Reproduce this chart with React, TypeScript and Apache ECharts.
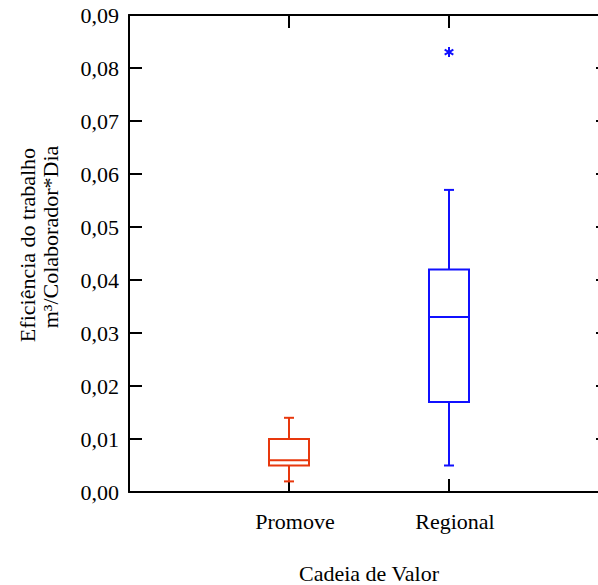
import React, { useEffect, useRef } from "react";
import * as echarts from "echarts";

const categories = ["Promove", "Regional"];
const whiskerLow = [0.002, 0.005];
const quartile1 = [0.005, 0.017];
const medians = [0.006, 0.033];
const quartile3 = [0.01, 0.042];
const whiskerHigh = [0.014, 0.057];
const outlierCategory = ["Regional"];
const outlierValue = [0.083];
const boxColors = ["#e8380d", "#1010ff"];
const yTicks = ["0,00", "0,01", "0,02", "0,03", "0,04", "0,05", "0,06", "0,07", "0,08", "0,09"];

const FONT = "'Liberation Serif', 'Times New Roman', serif";

const mkLine = () => ({ show: true, onZero: false, lineStyle: { color: "#000", width: 2 } });
const mkTick = () => ({ show: true, inside: true, length: 13, lineStyle: { color: "#000", width: 2 } });

export default function App() {
  const ref = useRef<HTMLDivElement>(null);
  useEffect(() => {
    if (!ref.current) return;
    const chart = echarts.init(ref.current, null, { renderer: "svg" });
    const boxData = categories.map((c, i) => [
      i + 1,
      whiskerLow[i],
      quartile1[i],
      medians[i],
      quartile3[i],
      whiskerHigh[i],
    ]);
    const outData = outlierCategory.map((c, i) => [categories.indexOf(c) + 1, outlierValue[i], categories.indexOf(c)]);
    chart.setOption({
      animation: false,
      backgroundColor: "#fff",
      grid: { left: 129, right: -11, top: 15, bottom: 93, containLabel: false, outerBoundsMode: "none" },
      xAxis: [
        {
          type: "value",
          position: "bottom",
          min: 0,
          max: 3,
          interval: 1,
          axisLine: mkLine(),
          axisTick: mkTick(),
          splitLine: { show: false },
          axisLabel: {
            formatter: (v: number) => categories[v - 1] || "",
            fontFamily: FONT,
            fontSize: 22,
            color: "#000",
            margin: 18,
            padding: [0, 0, 0, 12],
          },
          name: "Cadeia de Valor",
          nameLocation: "middle",
          nameGap: 70,
          nameTextStyle: { fontFamily: FONT, fontSize: 22, color: "#000" },
        },
        {
          type: "value",
          position: "top",
          min: 0,
          max: 3,
          interval: 1,
          axisLine: mkLine(),
          axisTick: mkTick(),
          splitLine: { show: false },
          axisLabel: { show: false },
        },
      ],
      yAxis: [
        {
          type: "value",
          position: "left",
          min: 0,
          max: 0.09,
          interval: 0.01,
          axisLine: mkLine(),
          axisTick: mkTick(),
          splitLine: { show: false },
          axisLabel: {
            formatter: (v: number) => yTicks[Math.round(v * 100)] ?? "",
            fontFamily: FONT,
            fontSize: 22,
            color: "#000",
            margin: 10,
            padding: [7, 0, 0, 0],
          },
        },
        {
          type: "value",
          position: "right",
          min: 0,
          max: 0.09,
          interval: 0.01,
          axisLine: mkLine(),
          axisTick: mkTick(),
          splitLine: { show: false },
          axisLabel: { show: false },
        },
      ],
      graphic: [
        {
          type: "text",
          x: 27,
          y: 245,
          rotation: Math.PI / 2,
          style: {
            text: "Eficiência do trabalho",
            fontFamily: FONT,
            fontSize: 22,
            fill: "#000",
            align: "center",
            verticalAlign: "middle",
          },
        },
        {
          type: "text",
          x: 50,
          y: 237,
          rotation: Math.PI / 2,
          style: {
            text: "m³/Colaborador*Dia",
            fontFamily: FONT,
            fontSize: 22,
            fill: "#000",
            align: "center",
            verticalAlign: "middle",
          },
        },
      ],
      series: [
        {
          type: "custom",
          xAxisIndex: 0,
          yAxisIndex: 0,
          data: boxData,
          encode: { x: 0, y: [1, 2, 3, 4, 5] },
          renderItem: (params: any, api: any) => {
            const x = api.value(0);
            const color = boxColors[params.dataIndex];
            const lo = api.coord([x, api.value(1)]);
            const q1 = api.coord([x, api.value(2)]);
            const md = api.coord([x, api.value(3)]);
            const q3 = api.coord([x, api.value(4)]);
            const hi = api.coord([x, api.value(5)]);
            const cx = lo[0];
            const hw = 20;
            const cw = 5;
            const st = { stroke: color, lineWidth: 2, fill: "none" };
            return {
              type: "group",
              children: [
                { type: "line", shape: { x1: cx, y1: lo[1], x2: cx, y2: q1[1] }, style: st },
                { type: "line", shape: { x1: cx, y1: q3[1], x2: cx, y2: hi[1] }, style: st },
                { type: "line", shape: { x1: cx - cw, y1: lo[1], x2: cx + cw, y2: lo[1] }, style: st },
                { type: "line", shape: { x1: cx - cw, y1: hi[1], x2: cx + cw, y2: hi[1] }, style: st },
                { type: "rect", shape: { x: cx - hw, y: q3[1], width: 2 * hw, height: q1[1] - q3[1] }, style: st },
                { type: "line", shape: { x1: cx - hw, y1: md[1], x2: cx + hw, y2: md[1] }, style: st },
              ],
            };
          },
        },
        {
          type: "custom",
          xAxisIndex: 0,
          yAxisIndex: 0,
          data: outData,
          encode: { x: 0, y: 1 },
          renderItem: (params: any, api: any) => {
            const p = api.coord([api.value(0), api.value(1)]);
            const color = boxColors[api.value(2)];
            const r = 5;
            const st = { stroke: color, lineWidth: 2 };
            const lines = [0, 60, 120].map((deg) => {
              const a = (deg * Math.PI) / 180;
              const dx = Math.sin(a) * r;
              const dy = Math.cos(a) * r;
              return { type: "line", shape: { x1: p[0] - dx, y1: p[1] - dy, x2: p[0] + dx, y2: p[1] + dy }, style: st };
            });
            return { type: "group", children: lines };
          },
        },
      ],
    });
    return () => chart.dispose();
  }, []);
  return (
    <div
      ref={ref}
      style={{ position: "fixed", left: 0, top: 0, width: 598, height: 585, background: "#fff" }}
    />
  );
}
